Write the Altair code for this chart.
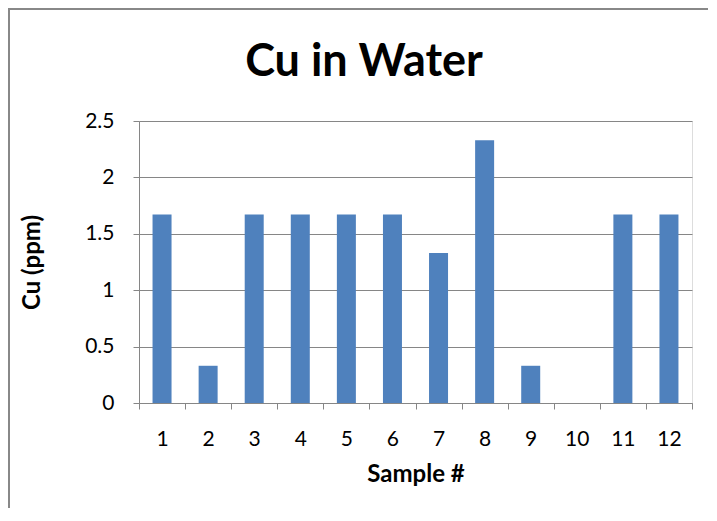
import altair as alt
import pandas as pd

samples = ["1", "2", "3", "4", "5", "6", "7", "8", "9", "10", "11", "12"]
cu_ppm = [1.67, 0.33, 1.67, 1.67, 1.67, 1.67, 1.33, 2.33, 0.33, 0.0, 1.67, 1.67]
y_ticks = [0, 0.5, 1, 1.5, 2, 2.5]
title_text = "Cu in Water"

df = pd.DataFrame({"sample": samples, "cu": cu_ppm})

FONT = "Lato"
GRID = "#868686"

bars = alt.Chart(df).mark_bar(size=19, color="#4F81BD").encode(
    x=alt.X("sample:N", sort=samples,
            scale=alt.Scale(paddingInner=0, paddingOuter=0),
            axis=alt.Axis(title="Sample #", labelAngle=0, tickBand="extent",
                          labelFont=FONT, labelFontSize=21, labelColor="#000",
                          labelPadding=19, tickSize=6, tickColor=GRID, domainColor=GRID,
                          titleFont=FONT, titleFontSize=24, titleFontWeight="bold",
                          titleColor="#000", titlePadding=13)),
    y=alt.Y("cu:Q", scale=alt.Scale(domain=[0, 2.5], nice=False),
            axis=alt.Axis(title="Cu (ppm)", values=y_ticks, format="~g",
                          labelFont=FONT, labelFontSize=21, labelColor="#000",
                          labelPadding=19, tickSize=6, tickColor=GRID, domainColor=GRID,
                          gridColor=GRID, grid=True,
                          titleFont=FONT, titleFontSize=24, titleFontWeight="bold",
                          titleColor="#000", titlePadding=40)),
)

title = alt.Chart(pd.DataFrame({"t": [title_text]})).mark_text(
    font=FONT, fontSize=45, fontWeight="bold", color="#000", baseline="middle", align="center"
).encode(text="t:N", x=alt.value(225), y=alt.value(-59))

border = alt.Chart(pd.DataFrame({"a": [0]})).mark_rect(
    filled=False, stroke="#888888", strokeWidth=2
).encode(x=alt.value(-130), x2=alt.value(620), y=alt.value(-112), y2=alt.value(450))

chart = alt.layer(border, bars, title).properties(
    width=553, height=282,
    autosize=alt.AutoSizeParams(type="none"),
    padding={"left": 131, "top": 113, "right": 16, "bottom": 105},
).configure_view(stroke=None).configure(background="white")

chart.save("out.html", embed_options={"renderer": "svg", "actions": False})
